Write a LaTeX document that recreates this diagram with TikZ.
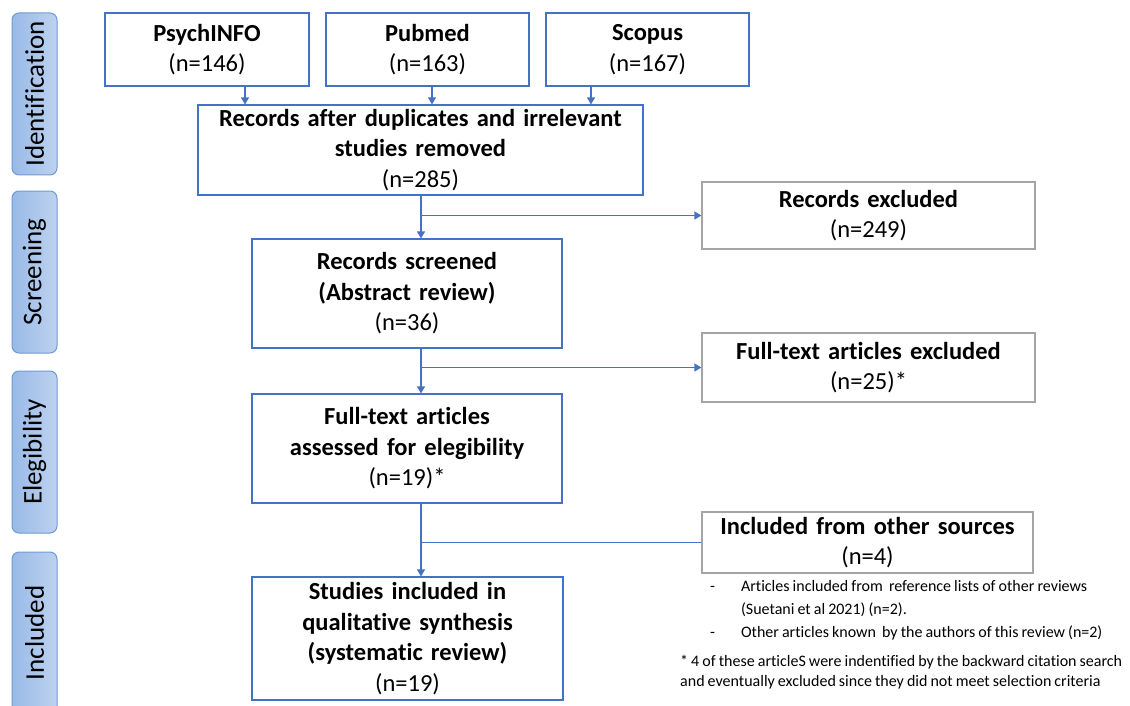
\documentclass[tikz,border=0pt]{standalone}
\usepackage{fontspec}
\setmainfont[Ligatures=NoCommon, WordSpace=0.85]{Carlito}
\usetikzlibrary{arrows.meta}

\definecolor{flowblue}{RGB}{68,114,196}
\definecolor{flowgray}{RGB}{165,165,165}
\definecolor{tabtop}{RGB}{190,210,240}
\definecolor{tabbottom}{RGB}{152,186,231}
\definecolor{tabline}{RGB}{112,154,212}

\tikzset{
  stage/.style={draw=flowblue, line width=1.1pt, fill=white, align=center,
    inner sep=0pt, font=\fontsize{24.5}{30.5}\selectfont},
  outside/.style={stage, draw=flowgray},
  phase/.style={rotate=90, draw=tabline, line width=1pt, rounded corners=7pt,
    left color=tabbottom, right color=tabtop,
    minimum width=162pt, minimum height=45pt, inner sep=0pt,
    font=\fontsize{27}{30}\selectfont},
  link/.style={draw=flowblue, line width=1.2pt},
  note/.style={inner sep=0pt, align=left}
}

\begin{document}
\begin{tikzpicture}[x=1pt, y=-1pt, >={Triangle[width=8pt,length=7pt]}]
    \useasboundingbox (0,0) rectangle (1130,706);

    % stages down the left side
    \path (34.5,  94) node [phase] (ident) {Identification};
    \path (34.5, 272) node [phase] (screen) {Screening};
    \path (34.5, 452) node [phase] (elig) {Elegibility};
    \path (34.5, 633) node [phase] (incl) {Included};

    % databases
    \path (207,   49.5) node [stage, text width=204pt, minimum height=73pt] (psych) {\textbf{PsychINFO}\\(n=146)};
    \path (427.5, 49.5) node [stage, text width=203pt, minimum height=73pt] (pubmed) {\textbf{Pubmed}\\(n=163)};
    \path (647.5, 49.5) node [stage, text width=203pt, minimum height=73pt] (scopus) {\textbf{Scopus}\\(n=167)};

    % main column
    \path (420.5, 150) node [stage, text width=445pt, minimum height=90pt] (records) {\textbf{Records after duplicates and irrelevant}\\\textbf{studies removed}\\(n=285)};
    \path (407, 293.5) node [stage, text width=310pt, minimum height=109pt] (screened) {\textbf{Records screened}\\\textbf{(Abstract review)}\\(n=36)};
    \path (407, 448.5) node [stage, text width=310pt, minimum height=109pt] (assessed) {\textbf{Full-text articles}\\\textbf{assessed for elegibility}\\(n=19)*};
    \path (407.5, 638.5) node [stage, text width=311pt, minimum height=123pt] (studies) {\textbf{Studies included in}\\\textbf{qualitative synthesis}\\\textbf{(systematic review)}\\(n=19)};

    % side column
    \path (868.5, 215.5) node [outside, text width=333pt, minimum height=67pt] (excl1) {\textbf{Records excluded}\\(n=249)};
    \path (868.5, 367.5) node [outside, text width=333pt, minimum height=69pt] (excl2) {\textbf{Full-text articles excluded}\\(n=25)*};
    \path (867.5, 542.5) node [outside, text width=331pt, minimum height=61pt] (other) {\textbf{Included from other sources}\\(n=4)};

    % notes
    \path (706, 575) node [note, anchor=north west, font=\fontsize{16}{23}\selectfont] (sources) {%
      \begin{tabular}{@{\hspace{4pt}}l@{\hspace{26pt}}l@{}}
        - & Articles included from\ \ reference lists of other reviews\\
          & (Suetani et al 2021) (n=2).\\
        - & Other articles known\ \ by the authors of this review (n=2)
      \end{tabular}};
    \path (680, 655) node [note, anchor=north west, font=\fontsize{16}{20}\selectfont] (starnote) {%
      * 4 of these articleS were indentified by the backward citation search\\
      and eventually excluded since they did not meet selection criteria};

    \coordinate (trunk) at (421, 0);

    % connectors
    \draw [link, ->] ([xshift=38pt]psych.south) -- ([xshift=38pt]psych.south |- records.north);
    \draw [link, ->] ([xshift=4.5pt]pubmed.south) -- ([xshift=4.5pt]pubmed.south |- records.north);
    \draw [link, ->] ([xshift=-56.5pt]scopus.south) -- ([xshift=-56.5pt]scopus.south |- records.north);
    \draw [link, ->] (records.south -| trunk) -- (screened.north -| trunk);
    \draw [link, ->] (excl1.west -| trunk) -- (excl1.west);
    \draw [link, ->] (screened.south -| trunk) -- (assessed.north -| trunk);
    \draw [link, ->] (excl2.west -| trunk) -- (excl2.west);
    \draw [link, ->] (assessed.south -| trunk) -- (studies.north -| trunk);
    \draw [link] (other.west) -- (other.west -| trunk);
\end{tikzpicture}
\end{document}
